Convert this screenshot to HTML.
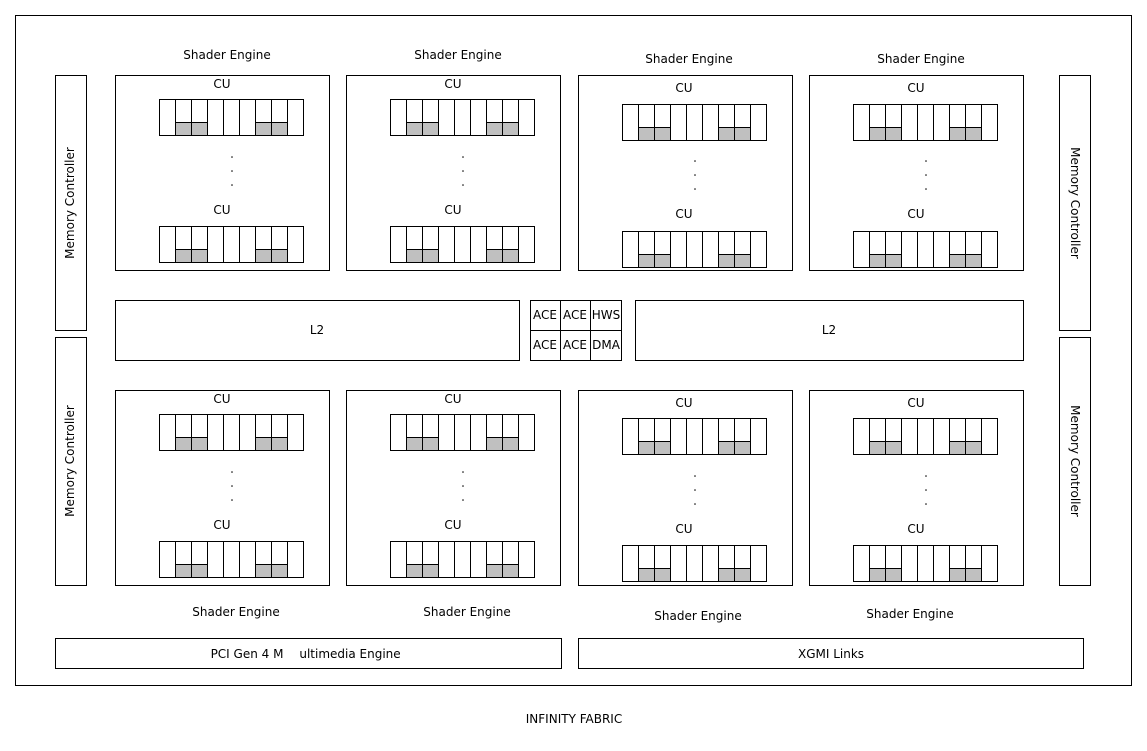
<!DOCTYPE html>
<html><head><meta charset="utf-8"><style>
html,body{margin:0;padding:0;background:#fff;}
svg{display:block;}
text{font-family:"DejaVu Sans","Liberation Sans",sans-serif;font-size:12px;fill:#000;}
</style></head><body>
<svg width="1147" height="751" viewBox="0 0 1147 751" xmlns="http://www.w3.org/2000/svg">
<defs>
<g id="strip">
<rect x="16" y="23" width="32" height="13" fill="#c0c0c0"/>
<rect x="96" y="23" width="32" height="13" fill="#c0c0c0"/>
<rect x="0" y="0" width="144" height="36" fill="none" stroke="#000"/>
<path d="M16 0V36M32 0V36M48 0V36M64 0V36M80 0V36M96 0V36M112 0V36M128 0V36M16 23H48M96 23H128" stroke="#000" fill="none"/>
</g>
<g id="dots"><circle cx="0" cy="0" r="0.8"/><circle cx="0" cy="14" r="0.8"/><circle cx="0" cy="28" r="0.8"/></g>
</defs>
<g fill="none" stroke="#000" stroke-width="1">
<rect x="15.5" y="15.5" width="1116" height="670"/>
<rect x="55.5" y="75.5" width="31" height="255"/>
<rect x="55.5" y="337.5" width="31" height="248"/>
<rect x="1059.5" y="75.5" width="31" height="255"/>
<rect x="1059.5" y="337.5" width="31" height="248"/>
<rect x="115.5" y="75.5" width="214" height="195"/>
<rect x="346.5" y="75.5" width="214" height="195"/>
<rect x="578.5" y="75.5" width="214" height="195"/>
<rect x="809.5" y="75.5" width="214" height="195"/>
<rect x="115.5" y="390.5" width="214" height="195"/>
<rect x="346.5" y="390.5" width="214" height="195"/>
<rect x="578.5" y="390.5" width="214" height="195"/>
<rect x="809.5" y="390.5" width="214" height="195"/>
<rect x="115.5" y="300.5" width="404" height="60"/>
<rect x="635.5" y="300.5" width="388" height="60"/>
<rect x="530.5" y="300.5" width="91" height="60"/>
<path d="M530 330.5H621M560.5 300V360M590.5 300V360"/>
<rect x="55.5" y="638.5" width="506" height="30"/>
<rect x="578.5" y="638.5" width="505" height="30"/>
</g>
<g transform="translate(159.5,99.5)"><use href="#strip"/></g>
<g transform="translate(159.5,226.5)"><use href="#strip"/></g>
<g transform="translate(390.5,99.5)"><use href="#strip"/></g>
<g transform="translate(390.5,226.5)"><use href="#strip"/></g>
<g transform="translate(622.5,104.5)"><use href="#strip"/></g>
<g transform="translate(622.5,231.5)"><use href="#strip"/></g>
<g transform="translate(853.5,104.5)"><use href="#strip"/></g>
<g transform="translate(853.5,231.5)"><use href="#strip"/></g>
<g transform="translate(159.5,414.5)"><use href="#strip"/></g>
<g transform="translate(159.5,541.5)"><use href="#strip"/></g>
<g transform="translate(390.5,414.5)"><use href="#strip"/></g>
<g transform="translate(390.5,541.5)"><use href="#strip"/></g>
<g transform="translate(622.5,418.5)"><use href="#strip"/></g>
<g transform="translate(622.5,545.5)"><use href="#strip"/></g>
<g transform="translate(853.5,418.5)"><use href="#strip"/></g>
<g transform="translate(853.5,545.5)"><use href="#strip"/></g>
<use href="#dots" x="232" y="157"/><use href="#dots" x="463" y="157"/>
<use href="#dots" x="695" y="161"/><use href="#dots" x="926" y="161"/>
<use href="#dots" x="232" y="472"/><use href="#dots" x="463" y="472"/>
<use href="#dots" x="695" y="476"/><use href="#dots" x="926" y="476"/>
<g text-anchor="middle">
<text x="227" y="59">Shader Engine</text>
<text x="458" y="59">Shader Engine</text>
<text x="689" y="63">Shader Engine</text>
<text x="921" y="63">Shader Engine</text>
<text x="236" y="616">Shader Engine</text>
<text x="467" y="616">Shader Engine</text>
<text x="698" y="620">Shader Engine</text>
<text x="910" y="618">Shader Engine</text>
<text x="222" y="88">CU</text><text x="453" y="88">CU</text>
<text x="684" y="92">CU</text><text x="916" y="92">CU</text>
<text x="222" y="214">CU</text><text x="453" y="214">CU</text>
<text x="684" y="218">CU</text><text x="916" y="218">CU</text>
<text x="222" y="403">CU</text><text x="453" y="403">CU</text>
<text x="684" y="407">CU</text><text x="916" y="407">CU</text>
<text x="222" y="529">CU</text><text x="453" y="529">CU</text>
<text x="684" y="533">CU</text><text x="916" y="533">CU</text>
<text x="317" y="334">L2</text>
<text x="829" y="334">L2</text>
<text x="545" y="319">ACE</text><text x="575" y="319">ACE</text><text x="606" y="319">HWS</text>
<text x="545" y="349">ACE</text><text x="575" y="349">ACE</text><text x="606" y="349">DMA</text>
<text x="247" y="658">PCI Gen 4 M</text>
<text x="350" y="658">ultimedia Engine</text>
<text x="831" y="658">XGMI Links</text>
<text x="574" y="723">INFINITY FABRIC</text>
<text transform="translate(74,203) rotate(-90)">Memory Controller</text>
<text transform="translate(74,461) rotate(-90)">Memory Controller</text>
<text transform="translate(1071,203) rotate(90)">Memory Controller</text>
<text transform="translate(1071,461) rotate(90)">Memory Controller</text>
</g>
</svg>
</body></html>
